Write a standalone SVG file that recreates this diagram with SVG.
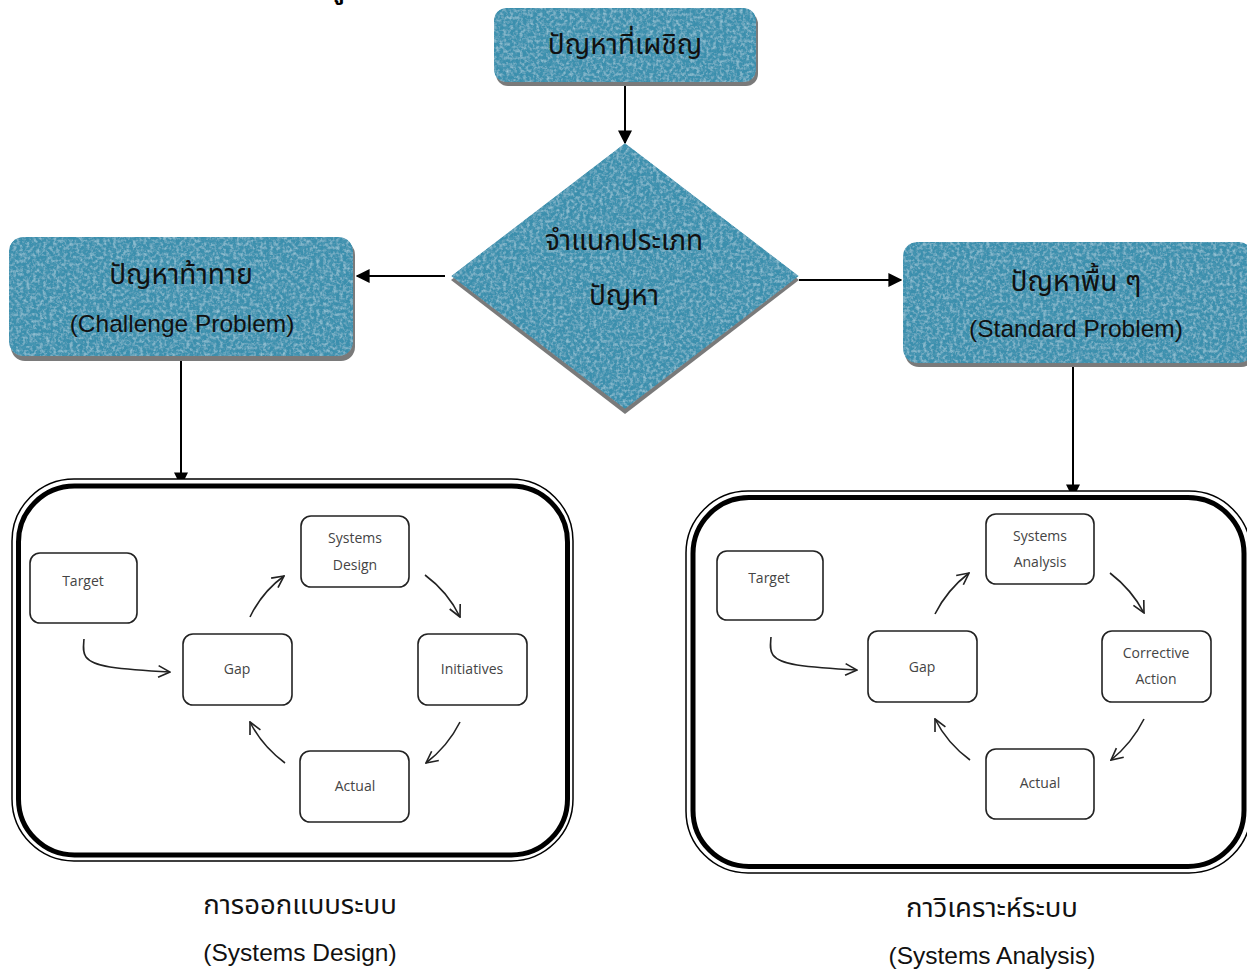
<svg xmlns="http://www.w3.org/2000/svg" width="1247" height="969" viewBox="0 0 1247 969">
<style>
.blue{fill:#3b8fad;filter:url(#tex)}
.shadow{fill:#7a7a7a}
.conn{stroke:#000;stroke-width:2;fill:none}
.thai{font-family:"Noto Sans Thai","Noto Serif Thai","Liberation Serif","DejaVu Serif",serif;font-size:28px;fill:#111;text-anchor:middle;dominant-baseline:central}
.eng{font-family:"Liberation Sans",Arial,sans-serif;font-size:24.5px;fill:#111;text-anchor:middle;dominant-baseline:central}
.cap{font-family:"Noto Sans Thai","Liberation Sans","DejaVu Sans",sans-serif;font-size:27.5px;fill:#111;text-anchor:middle;dominant-baseline:central}
.nd{fill:#fff;stroke:#222;stroke-width:1.6}
.nt{font-family:"Open Sans","Liberation Sans",sans-serif;font-size:14px;fill:#444;text-anchor:middle;dominant-baseline:central}
.ia{stroke:#222;stroke-width:1.6;fill:none;marker-end:url(#open)}
.outer{fill:#fff;stroke:#000;stroke-width:1.5}
.inner{fill:none;stroke:#000;stroke-width:5}
</style>
<defs>
<filter id="tex" x="0" y="0" width="100%" height="100%">
<feTurbulence type="fractalNoise" baseFrequency="0.3" numOctaves="3" seed="5" result="n"/>
<feColorMatrix in="n" type="matrix" values="0 0 0 0 0.1  0 0 0 0 0.35  0 0 0 0 0.48  1.4 0 0 0 -0.62" result="dk"/>
<feColorMatrix in="n" type="matrix" values="0 0 0 0 0.45  0 0 0 0 0.7  0 0 0 0 0.8  0 1.4 0 0 -0.62" result="lt"/>
<feMerge result="m"><feMergeNode in="SourceGraphic"/><feMergeNode in="dk"/><feMergeNode in="lt"/></feMerge>
<feComposite in="m" in2="SourceGraphic" operator="in"/>
</filter>
<marker id="sol" viewBox="0 0 10 10" refX="9" refY="5" markerWidth="14" markerHeight="14" markerUnits="userSpaceOnUse" orient="auto">
<path d="M0,0 L10,5 L0,10 Z" fill="#000"/>
</marker>
<marker id="open" viewBox="0 0 12 12" refX="11" refY="6" markerWidth="14" markerHeight="14" markerUnits="userSpaceOnUse" orient="auto">
<path d="M1,1 L11,6 L1,11" fill="none" stroke="#222" stroke-width="1.4"/>
</marker>
</defs>
<rect width="1247" height="969" fill="#fff"/>

<text x="330" y="-2" style="font-family:'Noto Sans Thai','DejaVu Sans',sans-serif;font-size:24px;font-weight:bold;fill:#000">ปู</text>

<g id="connectors">
<path class="conn" d="M625,82 L625,143" marker-end="url(#sol)"/>
<path class="conn" d="M445,276 L357,276" marker-end="url(#sol)"/>
<path class="conn" d="M799,280 L901,280" marker-end="url(#sol)"/>
<path class="conn" d="M181,357 L181,485" marker-end="url(#sol)"/>
<path class="conn" d="M1073,364 L1073,497" marker-end="url(#sol)"/>
</g>

<g id="node-top">
<rect class="shadow" x="496" y="12" width="262" height="74" rx="12"/>
<rect class="blue" x="494" y="8" width="262" height="74" rx="12"/>
<text class="thai" x="625" y="45">ปัญหาที่เผชิญ</text>
</g>

<g id="node-diamond">
<path class="shadow" d="M625,147 L799,280 L625,414 L451,280 Z"/>
<path class="blue" d="M625,143 L799,276 L625,409 L451,276 Z"/>
<text class="thai" x="624" y="241">จำแนกประเภท</text>
<text class="thai" x="624" y="296">ปัญหา</text>
</g>

<g id="node-challenge">
<rect class="shadow" x="11" y="241" width="344" height="120" rx="14"/>
<rect class="blue" x="9" y="237" width="344" height="119" rx="14"/>
<text class="thai" x="181" y="275">ปัญหาท้าทาย</text>
<text class="eng" x="182" y="323">(Challenge Problem)</text>
</g>

<g id="node-standard">
<rect class="shadow" x="905" y="246" width="350" height="121" rx="14"/>
<rect class="blue" x="903" y="242" width="350" height="121" rx="14"/>
<text class="thai" x="1076" y="282">ปัญหาพื้น ๆ</text>
<text class="eng" x="1076" y="328">(Standard Problem)</text>
</g>

<g id="design-frame">
<rect class="outer" x="12" y="479" width="561" height="382" rx="62"/>
<rect class="inner" x="18.5" y="486" width="549" height="369" rx="56"/>
</g>
<g id="d-target"><rect class="nd" x="30" y="553" width="107" height="70" rx="10"/><text class="nt" x="83" y="580">Target</text></g>
<g id="d-sysdesign"><rect class="nd" x="301" y="516" width="108" height="71" rx="10"/><text class="nt" x="355" y="537">Systems</text><text class="nt" x="355" y="564">Design</text></g>
<g id="d-gap"><rect class="nd" x="183" y="634" width="109" height="71" rx="10"/><text class="nt" x="237" y="668">Gap</text></g>
<g id="d-init"><rect class="nd" x="418" y="634" width="109" height="71" rx="10"/><text class="nt" x="472" y="668">Initiatives</text></g>
<g id="d-actual"><rect class="nd" x="300" y="751" width="109" height="71" rx="10"/><text class="nt" x="355" y="785">Actual</text></g>
<g id="design-connectors">
<path class="ia" d="M84,639 C83,652 80,662 110,667 C130,670 150,671 170,672"/>
<path class="ia" d="M250,617 Q262,592 284,576"/>
<path class="ia" d="M425,575 Q448,592 460,617"/>
<path class="ia" d="M460,722 Q448,746 426,763"/>
<path class="ia" d="M285,763 Q262,746 250,722"/>
</g>

<g id="analysis-frame">
<rect class="outer" x="686" y="491" width="565" height="382" rx="62"/>
<rect class="inner" x="693" y="497.5" width="551" height="369" rx="56"/>
</g>
<g id="a-target"><rect class="nd" x="717" y="551" width="106" height="69" rx="10"/><text class="nt" x="769" y="577">Target</text></g>
<g id="a-sysanalysis"><rect class="nd" x="986" y="514" width="108" height="70" rx="10"/><text class="nt" x="1040" y="535">Systems</text><text class="nt" x="1040" y="561">Analysis</text></g>
<g id="a-gap"><rect class="nd" x="868" y="631" width="109" height="71" rx="10"/><text class="nt" x="922" y="666">Gap</text></g>
<g id="a-corrective"><rect class="nd" x="1102" y="631" width="109" height="71" rx="10"/><text class="nt" x="1156" y="652">Corrective</text><text class="nt" x="1156" y="678">Action</text></g>
<g id="a-actual"><rect class="nd" x="986" y="749" width="108" height="70" rx="10"/><text class="nt" x="1040" y="782">Actual</text></g>
<g id="analysis-connectors">
<path class="ia" d="M771,637 C770,650 767,660 797,665 C817,668 837,669 857,670"/>
<path class="ia" d="M935,614 Q947,590 969,573"/>
<path class="ia" d="M1110,573 Q1132,590 1144,613"/>
<path class="ia" d="M1144,719 Q1132,743 1111,760"/>
<path class="ia" d="M970,760 Q947,743 935,719"/>
</g>

<g id="caption-design">
<text class="cap" x="300" y="905">การออกแบบระบบ</text>
<text class="eng" x="300" y="952">(Systems Design)</text>
</g>
<g id="caption-analysis">
<text class="cap" x="992" y="908">กาวิเคราะห์ระบบ</text>
<text class="eng" x="992" y="955">(Systems Analysis)</text>
</g>
</svg>
